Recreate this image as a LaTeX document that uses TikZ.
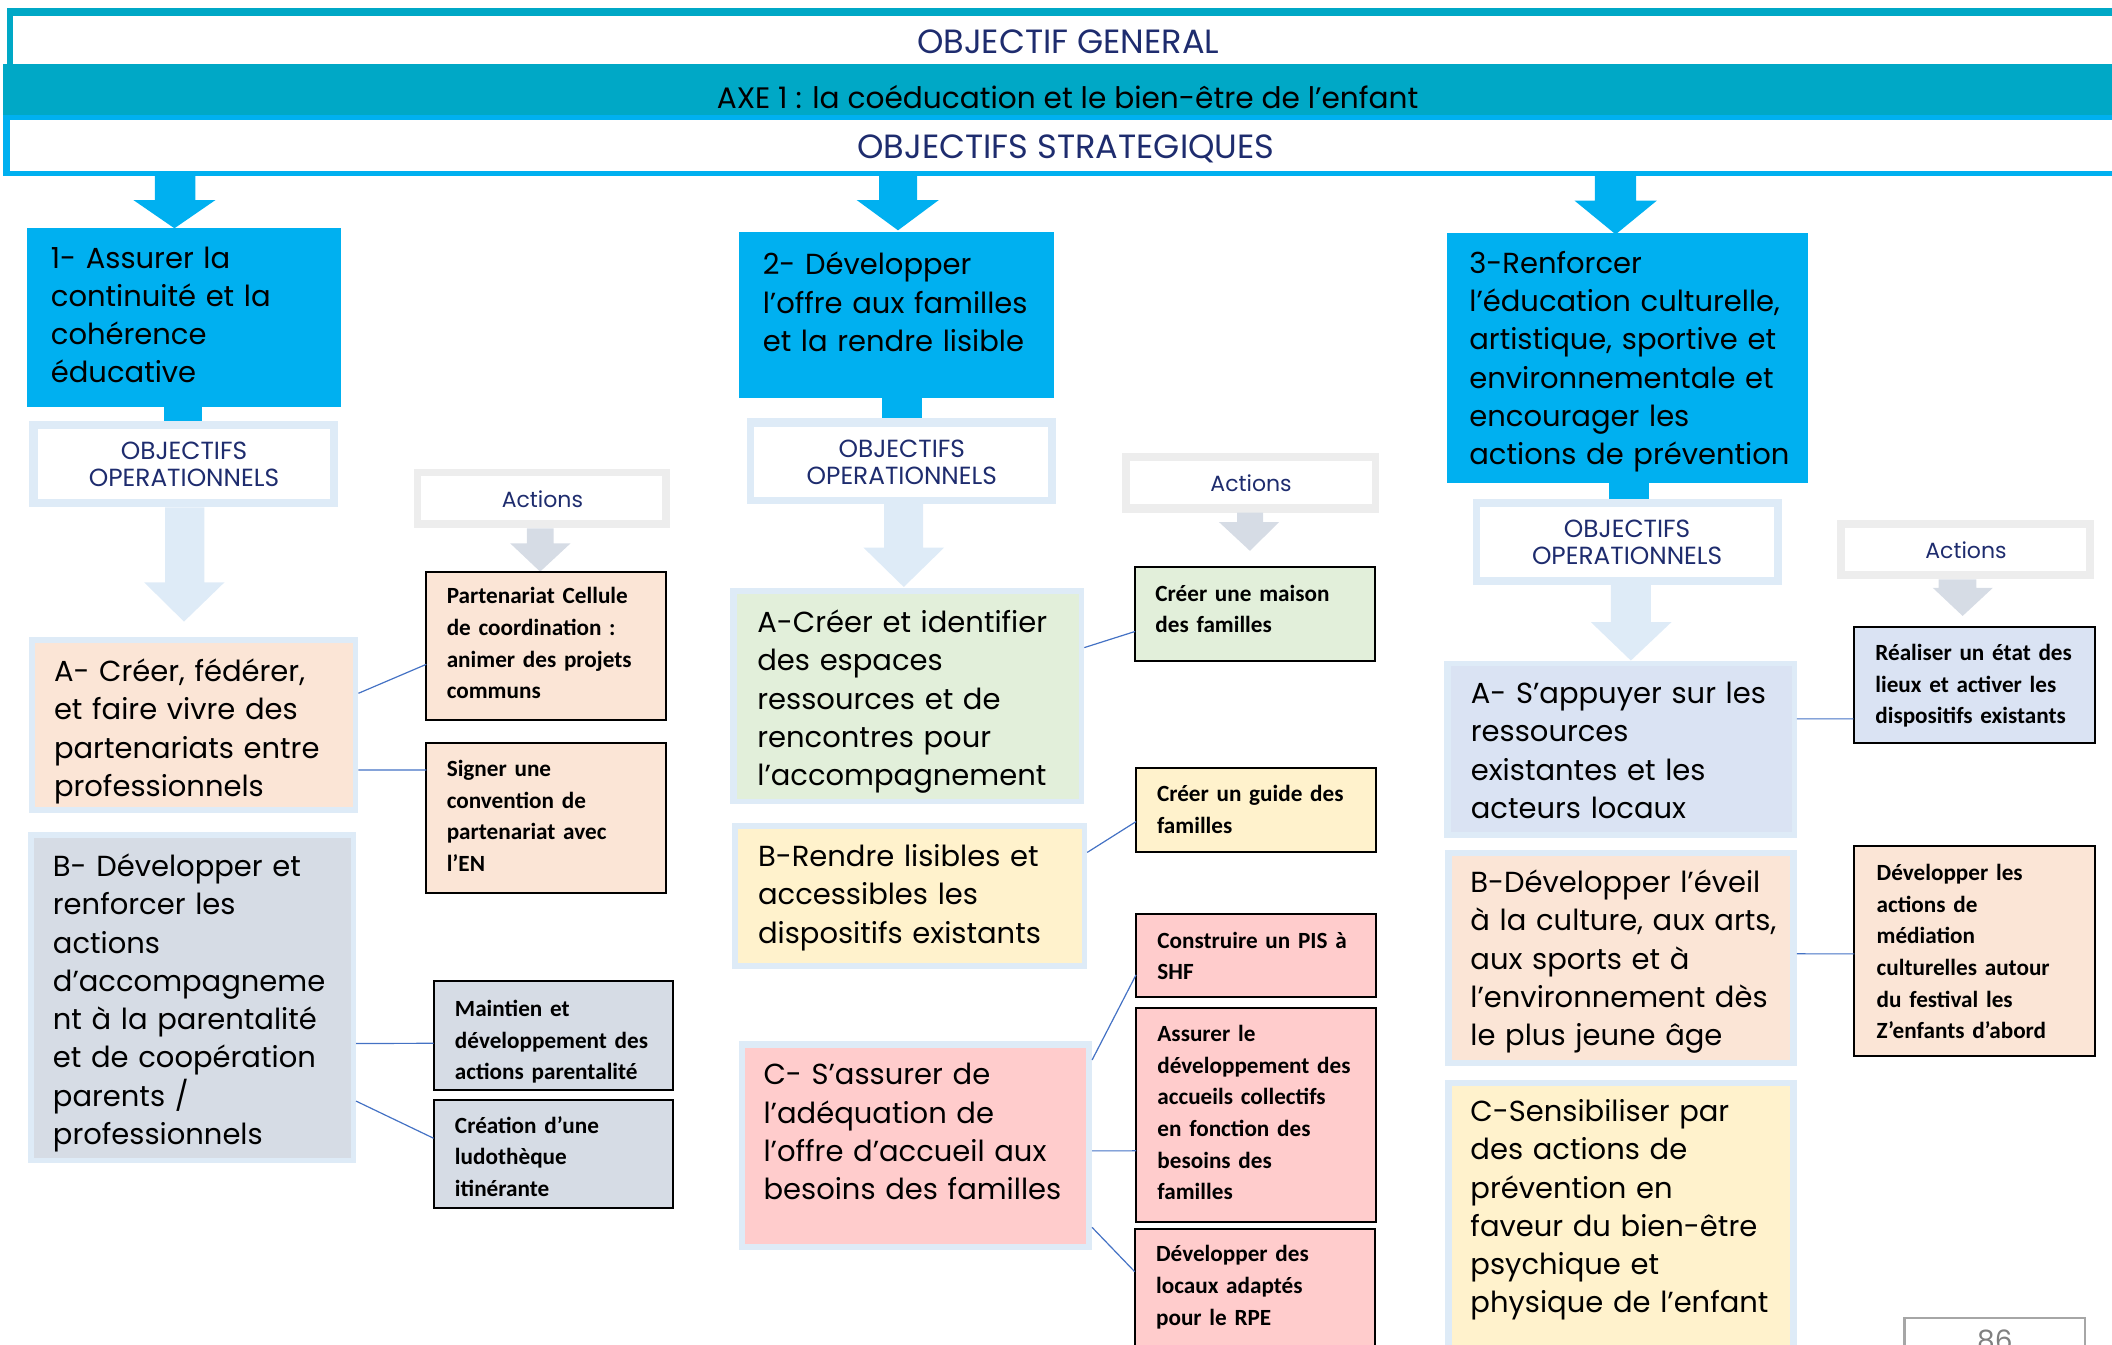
\documentclass[tikz,border=0pt]{standalone}
\usepackage{fontspec}
\setmainfont{Poppins}
\newfontfamily\calib{Carlito}
\usetikzlibrary{fit,calc}
\definecolor{cTeal}{RGB}{0,168,198}
\definecolor{cBlue}{RGB}{0,176,240}
\definecolor{cFrame}{RGB}{222,235,247}
\definecolor{cGrayFrame}{RGB}{237,237,237}
\definecolor{cGrayArrow}{RGB}{214,220,229}
\definecolor{cPeach}{RGB}{251,229,214}
\definecolor{cYellow}{RGB}{255,242,204}
\definecolor{cGreen}{RGB}{226,239,218}
\definecolor{cBlueGray}{RGB}{214,220,229}
\definecolor{cLightBlue}{RGB}{218,227,243}
\definecolor{cPink}{RGB}{255,204,204}
\definecolor{cNavy}{RGB}{30,44,110}
\definecolor{cConn}{RGB}{68,114,196}
\definecolor{cPage}{RGB}{166,166,166}
\definecolor{cPageTxt}{RGB}{128,128,128}
\newcommand\blkarrow[9]{\fill[#1] (#2,#4) -- (#2,#5) -- (#6,#5) -- (#8,#9) -- (#7,#5) -- (#3,#5) -- (#3,#4) -- cycle;}
\tikzset{
  rect/.style={inner sep=0pt, outer sep=0pt},
  bigtxt/.style={anchor=base west, inner sep=0pt, align=left, text width=12cm, font=\fontsize{14.5}{19.13}\selectfont},
  acttxt/.style={anchor=base west, inner sep=0pt, align=left, text width=8cm, font=\calib\bfseries\fontsize{11.6}{15.83}\selectfont},
  hdrtxt/.style={anchor=base, inner sep=0pt, font=\fontsize{16.8}{18}\selectfont},
  axetxt/.style={anchor=base, inner sep=0pt, font=\fontsize{14.8}{18}\selectfont},
  objtxt/.style={anchor=base, inner sep=0pt, align=center, text width=6cm, text=cNavy, font=\fontsize{12.4}{13.47}\selectfont},
  acttitle/.style={anchor=base, inner sep=0pt, text=cNavy, font=\fontsize{11}{13.47}\selectfont},
  actbox/.style={rect, draw=black, line width=1pt},
  conn/.style={draw=cConn, line width=0.6pt},
}
\begin{document}
\begin{tikzpicture}[x=0.6735pt,y=-0.6735pt]
\useasboundingbox (0,0) rectangle (1568,998);
\clip (0,0) rectangle (1568,998);
% ---------- header ----------
\fill[cTeal] (5,6.2) rectangle (1580,11.9);
\fill[cTeal] (5,6.2) rectangle (10,47.5);
\fill[cTeal] (2.5,47.5) rectangle (1580,85.4);
\fill[cBlue] (2.5,85.4) rectangle (1580,89.1);
\fill[cBlue] (2.5,89.1) rectangle (7.5,130.7);
\fill[cBlue] (2.5,127) rectangle (1580,130.7);
\node[hdrtxt, text=cNavy] (hG) at (793,39.6) {OBJECTIF GENERAL};
\node[axetxt, text=black] (hA) at (792.6,80.4) {AXE 1 : la coéducation et le bien-être de l’enfant};
\node[hdrtxt, text=cNavy] (hS) at (791.4,117.6) {OBJECTIFS STRATEGIQUES};
% ---------- blue arrows ----------
\blkarrow{cBlue}{115}{145}{127}{148.5}{99}{160}{129.5}{169.5}
\blkarrow{cBlue}{652.6}{680.8}{127}{148.5}{636}{697}{666.7}{171}
\blkarrow{cBlue}{1184}{1214.6}{127}{149}{1169}{1230}{1199.5}{174}
\fill[cBlue] (121.5,300) rectangle (150,313);
\fill[cBlue] (654.8,294) rectangle (684.5,311);
\fill[cBlue] (1194.5,357) rectangle (1224.3,371);
% ---------- strategic boxes ----------
\node[fit={(20,169)(253.5,302.4)}, rect, fill=cBlue] (S1) {};
\node[fit={(548.6,172.2)(782.5,295.5)}, rect, fill=cBlue] (S2) {};
\node[fit={(1074.5,173)(1342.3,358.5)}, rect, fill=cBlue] (S3) {};
\node[bigtxt] (tS1) at (37.5,199) {1- Assurer la\\continuité et la\\cohérence\\éducative};
\node[bigtxt] (tS2) at (566,204) {2- Développer\\l’offre aux familles\\et la rendre lisible};
\node[bigtxt] (tS3) at (1090.6,203) {3-Renforcer\\l’éducation culturelle,\\artistique, sportive et\\environnementale et\\encourager les\\actions de prévention};
% ---------- objectifs operationnels ----------
\node[fit={(21.5,312.6)(251,376.6)}, rect, fill=cFrame] (O1) {};
\node[fit={(28.2,318.5)(245.3,370.7)}, rect, fill=white] (O1in) {};
\node[objtxt] (tO1) at (136.6,341.5) {OBJECTIFS\\OPERATIONNELS};
\node[fit={(554.6,310.7)(784,374.2)}, rect, fill=cFrame] (O2) {};
\node[fit={(560,317)(778,369)}, rect, fill=white] (O2in) {};
\node[objtxt] (tO2) at (669.5,339.8) {OBJECTIFS\\OPERATIONNELS};
\node[fit={(1093.3,370.2)(1322.8,434)}, rect, fill=cFrame] (O3) {};
\node[fit={(1099,376.1)(1317,428.1)}, rect, fill=white] (O3in) {};
\node[objtxt] (tO3) at (1208,399) {OBJECTIFS\\OPERATIONNELS};
% light arrows
\blkarrow{cFrame}{122.6}{151.8}{376.6}{432.3}{107}{166.7}{136.6}{461.5}
\blkarrow{cFrame}{656.3}{685.3}{374.2}{406.5}{641}{701}{671}{435.8}
\blkarrow{cFrame}{1196}{1225.7}{434}{461.8}{1181}{1241}{1210.8}{490.4}
% ---------- actions titles ----------
\node[fit={(307,348.2)(497.1,392.2)}, rect, fill=cGrayFrame] (T1) {};
\node[fit={(312.6,353.4)(491.5,386)}, rect, fill=white] (T1in) {};
\node[acttitle] (tT1) at (402.7,376.7) {Actions};
\node[fit={(833,336.4)(1024,380.6)}, rect, fill=cGrayFrame] (T2) {};
\node[fit={(839,341.9)(1018.6,374.2)}, rect, fill=white] (T2in) {};
\node[acttitle] (tT2) at (928.8,365) {Actions};
\node[fit={(1364,386)(1554.6,430.2)}, rect, fill=cGrayFrame] (T3) {};
\node[fit={(1369.4,391.7)(1549,424.1)}, rect, fill=white] (T3in) {};
\node[acttitle] (tT3) at (1459.6,415) {Actions};
\blkarrow{cGrayArrow}{391.1}{411}{392.2}{403.4}{378.8}{423.6}{401}{424.4}
\blkarrow{cGrayArrow}{918.4}{937.7}{380.6}{387.6}{905}{949.6}{928}{409}
\blkarrow{cGrayArrow}{1439.2}{1467.3}{430.2}{436.4}{1434.9}{1479.6}{1457.1}{457.3}
% ---------- column 1 objectives ----------
\node[fit={(21.5,473.2)(266.1,603.8)}, rect, fill=cFrame] (A1) {};
\node[fit={(25.8,477.1)(261.8,599.3)}, rect, fill=cPeach] (A1in) {};
\node[bigtxt] (tA1) at (39.8,506.1) {A- Créer, fédérer,\\et faire vivre des\\partenariats entre\\professionnels};
\node[fit={(20.8,617.7)(264.3,863.4)}, rect, fill=cFrame] (B1) {};
\node[fit={(25.2,622)(260.6,859.7)}, rect, fill=cBlueGray] (B1in) {};
\node[bigtxt] (tB1) at (39,650.8) {B- Développer et\\renforcer les\\actions\\d’accompagneme\\nt à la parentalité\\et de coopération\\parents /\\professionnels};
% column 1 actions
\node[fit={(316.5,424.4)(494.8,534.5)}, actbox, fill=cPeach] (P1) {};
\node[acttxt] (tP1) at (331.4,448.4) {Partenariat Cellule\\de coordination :\\animer des projets\\communs};
\node[fit={(316.5,551.9)(494.8,662.7)}, actbox, fill=cPeach] (P2) {};
\node[acttxt] (tP2) at (331.4,576.6) {Signer une\\convention de\\partenariat avec\\l’EN};
\node[fit={(321.9,728.3)(500,809.2)}, actbox, fill=cBlueGray] (P3) {};
\node[acttxt] (tP3) at (337.5,754.8) {Maintien et\\développement des\\actions parentalité};
\node[fit={(321.9,816.6)(500,897)}, actbox, fill=cBlueGray] (P4) {};
\node[acttxt] (tP4) at (337.5,841.4) {Création d’une\\ludothèque\\itinérante};
\draw[conn] ($(A1.north east)!0.318!(A1.south east)$) -- ($(P1.north west)!0.625!(P1.south west)$);
\draw[conn] ($(A1.north east)!0.754!(A1.south east)$) -- ($(P2.north west)!0.179!(P2.south west)$);
\draw[conn] ($(B1.north east)!0.639!(B1.south east)$) -- ($(P3.north west)!0.572!(P3.south west)$);
\draw[conn] ($(B1.north east)!0.813!(B1.south east)$) -- ($(P4.north west)!0.354!(P4.south west)$);
% ---------- column 2 objectives ----------
\node[fit={(542,436.4)(805,596.7)}, rect, fill=cFrame] (A2) {};
\node[fit={(547,441)(801,593)}, rect, fill=cGreen] (A2in) {};
\node[bigtxt] (tA2) at (562,469.6) {A-Créer et identifier\\des espaces\\ressources et de\\rencontres pour\\l’accompagnement};
\node[fit={(543.2,611.2)(807.2,719.4)}, rect, fill=cFrame] (B2) {};
\node[fit={(547.9,615.7)(803,714.7)}, rect, fill=cYellow] (B2in) {};
\node[bigtxt] (tB2) at (562.5,643.4) {B-Rendre lisibles et\\accessibles les\\dispositifs existants};
\node[fit={(548.4,772.8)(810.8,928)}, rect, fill=cFrame] (C2) {};
\node[fit={(553,777.8)(806.2,923.5)}, rect, fill=cPink] (C2in) {};
\node[bigtxt] (tC2) at (566.6,805.5) {C- S’assurer de\\l’adéquation de\\l’offre d’accueil aux\\besoins des familles};
% column 2 actions
\node[fit={(842.7,420.8)(1020.8,490.4)}, actbox, fill=cGreen] (Q1) {};
\node[acttxt] (tQ1) at (857.5,446.3) {Créer une maison\\des familles};
\node[fit={(843.4,570.3)(1021.8,632.7)}, actbox, fill=cYellow] (Q2) {};
\node[acttxt] (tQ2) at (858.7,595.4) {Créer un guide des\\familles};
\node[fit={(843.4,678.8)(1021.8,740.4)}, actbox, fill=cPink] (Q3) {};
\node[acttxt] (tQ3) at (859,704) {Construire un PIS à\\SHF};
\node[fit={(843.4,748.6)(1021.8,907)}, actbox, fill=cPink] (Q4) {};
\node[acttxt] (tQ4) at (859,773.3) {Assurer le\\développement des\\accueils collectifs\\en fonction des\\besoins des\\familles};
\node[fit={(842.4,912.2)(1020.8,1010)}, actbox, fill=cPink] (Q5) {};
\node[acttxt] (tQ5) at (858,936.7) {Développer des\\locaux adaptés\\pour le RPE};
\draw[conn] ($(A2.north east)!0.277!(A2.south east)$) -- ($(Q1.north west)!0.690!(Q1.south west)$);
\draw[conn] ($(B2.north east)!0.2!(B2.south east)$) -- ($(Q2.north west)!0.636!(Q2.south west)$);
\draw[conn] ($(C2.north east)!0.091!(C2.south east)$) -- ($(Q3.north west)!0.73!(Q3.south west)$);
\draw[conn] ($(C2.north east)!0.526!(C2.south east)$) -- ($(Q4.north west)!0.668!(Q4.south west)$);
\draw[conn] ($(C2.north east)!0.892!(C2.south east)$) -- ($(Q5.north west)!0.326!(Q5.south west)$);
% ---------- column 3 objectives ----------
\node[fit={(1072.4,490.4)(1334,622)}, rect, fill=cFrame] (A3) {};
\node[fit={(1077.2,494.7)(1330.2,617.5)}, rect, fill=cLightBlue] (A3in) {};
\node[bigtxt] (tA3) at (1091.7,522.3) {A- S’appuyer sur les\\ressources\\existantes et les\\acteurs locaux};
\node[fit={(1072.7,631)(1334,791.4)}, rect, fill=cFrame] (B3) {};
\node[fit={(1077.7,635.5)(1329.1,787)}, rect, fill=cPeach] (B3in) {};
\node[bigtxt] (tB3) at (1091.4,662.7) {B-Développer l’éveil\\à la culture, aux arts,\\aux sports et à\\l’environnement dès\\le plus jeune âge};
\node[fit={(1072.7,801.8)(1334,1010)}, rect, fill=cFrame] (C3) {};
\node[fit={(1077.7,806.3)(1329.1,1010)}, rect, fill=cYellow] (C3in) {};
\node[bigtxt] (tC3) at (1091.4,832.7) {C-Sensibiliser par\\des actions de\\prévention en\\faveur du bien-être\\psychique et\\physique de l’enfant};
% column 3 actions
\node[fit={(1376.1,465.7)(1555,551.9)}, actbox, fill=cLightBlue] (R1) {};
\node[acttxt] (tR1) at (1392,490.4) {Réaliser un état des\\lieux et activer les\\dispositifs existants};
\node[fit={(1376.8,628)(1555.4,784)}, actbox, fill=cPeach] (R2) {};
\node[acttxt] (tR2) at (1393,653.8) {Développer les\\actions de\\médiation\\culturelles autour\\du festival les\\Z’enfants d’abord};
\draw[conn] ($(A3.north east)!0.329!(A3.south east)$) -- ($(R1.north west)!0.789!(R1.south west)$);
\draw[conn] ($(B3.north east)!0.481!(B3.south east)$) -- ($(R2.north west)!0.514!(R2.south west)$);
% ---------- page number ----------
\node[fit={(1414,978.7)(1547.8,1015)}, rect, draw=cPage, line width=1.2pt] (pg) {};
\node[anchor=base, inner sep=0pt, text=cPageTxt, font=\fontsize{14}{16}\selectfont] (pgn) at (1481,1003) {86};
\end{tikzpicture}
\end{document}
